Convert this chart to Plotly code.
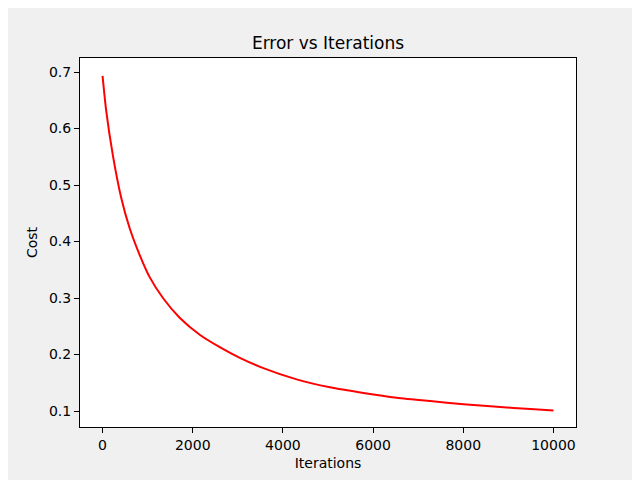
import plotly.graph_objects as go

# cost
iterations = [0, 80, 230, 415, 600, 820, 1045, 1340, 1710, 2155, 2600, 3045,
              3565, 4305, 5045, 5785, 6525, 7265, 8005, 8750, 9490, 10000]
cost = [0.693, 0.632, 0.552, 0.477, 0.424, 0.377, 0.337, 0.300, 0.265, 0.235,
        0.213, 0.194, 0.176, 0.156, 0.142, 0.132, 0.1235, 0.1175, 0.112, 0.1075,
        0.1035, 0.101]

x_ticks = [0, 2000, 4000, 6000, 8000, 10000]
x_labels = ["0", "2000", "4000", "6000", "8000", "10000"]
y_ticks = [0.1, 0.2, 0.3, 0.4, 0.5, 0.6, 0.7]
y_labels = ["0.1", "0.2", "0.3", "0.4", "0.5", "0.6", "0.7"]

fig = go.Figure()
fig.add_trace(go.Scatter(x=iterations, y=cost, mode="lines",
                         line=dict(color="red", width=2, shape="spline", smoothing=0.6)))

axis_style = dict(showline=True, mirror=True, linecolor="black", linewidth=1,
                  showgrid=False, zeroline=False, ticks="outside", ticklen=5,
                  tickcolor="black", tickfont=dict(size=14, color="black"))

# the page body adds an 8px offset, so margins are shifted by 8px
fig.update_layout(
    width=640, height=480,
    paper_bgcolor="#f0f0f0", plot_bgcolor="white",
    margin=dict(l=72, r=72, t=50, b=61),
    font=dict(family="DejaVu Sans", color="black"),
    showlegend=False,
    title=dict(text="Error vs Iterations", xref="paper", x=0.5, xanchor="center",
               yref="container", y=1 - 35 / 480, yanchor="middle", font=dict(size=17)),
)
fig.update_xaxes(range=[-500, 10500], tickvals=x_ticks, ticktext=x_labels,
                 title=dict(text="Iterations", font=dict(size=14), standoff=6),
                 **axis_style)
fig.update_yaxes(range=[0.0717, 0.7248], tickvals=y_ticks, ticktext=y_labels,
                 title=dict(text="Cost", font=dict(size=14), standoff=8),
                 **axis_style)

fig.write_html("out.html")
